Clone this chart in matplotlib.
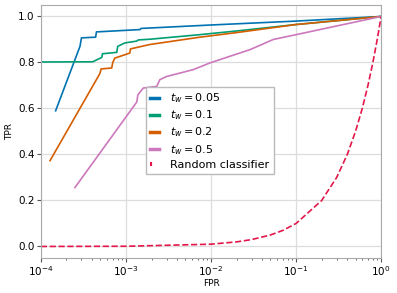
import numpy as np
from matplotlib import pyplot as plt

# ROC curves
fpr_005 = [1.49e-4, 2.88e-4, 3.0e-4, 4.4e-4, 4.5e-4, 1.46e-3, 1.5e-3, 1e-2, 0.1, 1.0]
tpr_005 = [0.590, 0.870, 0.907, 0.910, 0.933, 0.943, 0.948, 0.963, 0.980, 1.0]

fpr_01 = [8e-5, 4.06e-4, 5.2e-4, 5.3e-4, 7.8e-4, 8.0e-4, 9.7e-4, 1.34e-3, 1.4e-3, 1.9e-3, 7.4e-3, 2e-2, 0.1, 1.0]
tpr_01 = [0.802, 0.803, 0.822, 0.838, 0.844, 0.870, 0.885, 0.893, 0.898, 0.901, 0.921, 0.937, 0.965, 1.0]

fpr_02 = [1.28e-4, 4.94e-4, 5.1e-4, 6.8e-4, 7.0e-4, 7.4e-4, 1.11e-3, 1.13e-3, 1.9e-3, 7.4e-3, 2e-2, 0.1, 1.0]
tpr_02 = [0.373, 0.752, 0.772, 0.776, 0.800, 0.819, 0.841, 0.859, 0.878, 0.910, 0.930, 0.965, 1.0]

fpr_05 = [2.51e-4, 1.34e-3, 1.38e-3, 1.6e-3, 2.3e-3, 2.5e-3, 3.0e-3, 6.2e-3, 9.7e-3, 2.88e-2, 5.4e-2, 0.1, 1.0]
tpr_05 = [0.256, 0.628, 0.659, 0.689, 0.696, 0.725, 0.739, 0.769, 0.798, 0.856, 0.900, 0.921, 1.0]

rand_x = [1e-4, 1e-3, 1e-2, 0.02, 0.03, 0.05, 0.07, 0.1, 0.2, 0.3, 0.4, 0.5, 0.6, 0.7, 0.8, 0.9, 1.0]
rand_y = [1e-4, 1e-3, 1e-2, 0.02, 0.03, 0.05, 0.07, 0.1, 0.2, 0.3, 0.4, 0.5, 0.6, 0.7, 0.8, 0.9, 1.0]

fig = plt.figure(figsize=(3.97, 2.93), dpi=100)
ax = fig.add_axes([0.103, 0.1195, 0.857, 0.8635])

ax.plot(fpr_005, tpr_005, color='#0173b2', lw=1.2, label=r'$t_w = 0.05$')
ax.plot(fpr_01, tpr_01, color='#029e73', lw=1.2, label=r'$t_w = 0.1$')
ax.plot(fpr_02, tpr_02, color='#d55e00', lw=1.2, label=r'$t_w = 0.2$')
ax.plot(fpr_05, tpr_05, color='#cc78bc', lw=1.2, label=r'$t_w = 0.5$')
ax.plot(rand_x, rand_y, color='#e3174a', lw=1.2, ls='--', label='Random classifier')

ax.set_xscale('log')
ax.set_xlim(1e-4, 1)
ax.set_ylim(-0.05, 1.05)
ax.set_xlabel('FPR', fontsize=6.5, labelpad=0.5)
ax.set_ylabel('TPR', fontsize=6.5, labelpad=3)
ax.tick_params(labelsize=7.5, colors='#555555', labelcolor='black', length=3, pad=1.5)
ax.tick_params(which='minor', colors='#555555', length=1.5)
ax.grid(True, which='major', color='#dddddd', lw=0.9)
ax.set_axisbelow(True)
for s in ax.spines.values():
    s.set_color('#aaaaaa')

leg = ax.legend(loc='upper left', bbox_to_anchor=(0.309, 0.676), fontsize=8,
                handlelength=0.8, handletextpad=1.0, labelspacing=0.3,
                borderaxespad=0, fancybox=False, framealpha=1, edgecolor='#bbbbbb')
hl = leg.get_lines()
for h in hl[:4]:
    h.set_linewidth(2.5)
hl[4].set_linewidth(3)
hl[4].set_linestyle((0.5, (1.0, 5)))

fig.savefig('out.png', dpi=100)
